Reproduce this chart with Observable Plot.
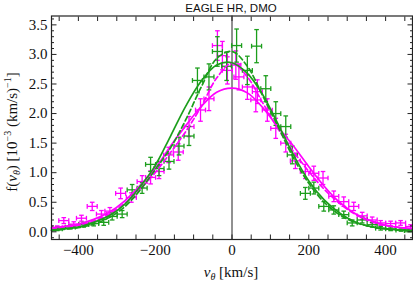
<!DOCTYPE html>
<html>
<head>
<meta charset="utf-8">
<script src="https://cdn.jsdelivr.net/npm/d3@7"></script>
<script src="https://cdn.jsdelivr.net/npm/@observablehq/plot@0.6"></script>
<style>
  html, body { margin: 0; padding: 0; background: white; }
  #chart { width: 413px; height: 282px; }
</style>
</head>
<body>
<div id="chart"></div>
<script>
// ---- data ----
const title = "EAGLE HR, DMO";

// green binned points: velocity (km/s), f, y-error
const greenV = [-455, -421, -386, -360, -334, -312, -286, -260, -234, -212, -190, -164, -138, -112, -90, -60, -38, -14, 12, 40, 64, 88, 114, 140, 157, 191, 213, 239, 265, 291, 313, 339, 365, 387, 413, 440, 462];
const greenF = [0.05, 0.08, 0.12, 0.14, 0.16, 0.26, 0.30, 0.71, 0.74, 1.14, 1.07, 1.19, 1.45, 1.62, 2.56, 2.62, 3.05, 2.80, 3.15, 2.73, 3.14, 2.42, 2.00, 1.78, 1.30, 0.65, 0.74, 0.43, 0.37, 0.29, 0.15, 0.20, 0.12, 0.06, 0.05, 0.03, 0.02];
const greenE = [0.03, 0.03, 0.04, 0.04, 0.05, 0.06, 0.06, 0.09, 0.09, 0.12, 0.12, 0.13, 0.15, 0.16, 0.21, 0.22, 0.25, 0.24, 0.28, 0.24, 0.28, 0.22, 0.20, 0.18, 0.15, 0.10, 0.10, 0.08, 0.07, 0.06, 0.05, 0.05, 0.04, 0.03, 0.03, 0.02, 0.02];

// magenta binned points
const magV = [-455, -438, -412, -392, -364, -340, -318, -290, -262, -234, -212, -190, -165, -140, -112, -82, -60, -38, -25, -12, 10, 18, 40, 62, 66, 92, 114, 140, 165, 191, 213, 237, 265, 291, 317, 339, 365, 387, 413, 439, 465];
const magF = [0.07, 0.19, 0.13, 0.23, 0.43, 0.30, 0.35, 0.65, 0.58, 0.85, 0.92, 1.02, 1.30, 1.35, 1.78, 2.06, 2.25, 3.15, 2.98, 2.73, 2.82, 2.62, 2.45, 2.23, 2.37, 2.06, 1.75, 1.50, 1.20, 1.02, 0.99, 0.91, 0.60, 0.51, 0.43, 0.27, 0.20, 0.15, 0.14, 0.15, 0.09];
const magE = [0.03, 0.05, 0.04, 0.05, 0.07, 0.06, 0.06, 0.09, 0.08, 0.10, 0.11, 0.12, 0.13, 0.14, 0.17, 0.19, 0.20, 0.25, 0.24, 0.23, 0.24, 0.22, 0.21, 0.20, 0.20, 0.19, 0.17, 0.15, 0.13, 0.12, 0.12, 0.11, 0.09, 0.08, 0.07, 0.06, 0.05, 0.04, 0.04, 0.04, 0.03];

// fitted model curves
const curveV =     [-470, -440, -400, -360, -320, -280, -240, -200, -160, -120, -80, -40, 0, 40, 80, 120, 160, 200, 240, 280, 320, 360, 400, 440, 470];
const greenSolid = [0.03, 0.05, 0.08, 0.16, 0.27, 0.46, 0.76, 1.12, 1.62, 2.13, 2.55, 2.82, 2.86, 2.68, 2.32, 1.82, 1.30, 0.86, 0.54, 0.32, 0.17, 0.09, 0.05, 0.03, 0.02];
const greenDash =  [0.02, 0.04, 0.07, 0.13, 0.24, 0.42, 0.70, 1.05, 1.42, 1.90, 2.45, 2.93, 3.05, 2.80, 2.30, 1.78, 1.25, 0.82, 0.50, 0.29, 0.16, 0.09, 0.05, 0.03, 0.02];
const magSolid =   [0.07, 0.09, 0.13, 0.21, 0.33, 0.52, 0.78, 1.07, 1.45, 1.80, 2.12, 2.36, 2.43, 2.35, 2.10, 1.77, 1.45, 1.10, 0.77, 0.50, 0.31, 0.19, 0.11, 0.07, 0.05];
const magDash =    [0.05, 0.07, 0.11, 0.18, 0.30, 0.48, 0.72, 1.00, 1.34, 1.70, 2.12, 2.60, 2.85, 2.62, 2.18, 1.74, 1.36, 1.02, 0.72, 0.48, 0.30, 0.18, 0.11, 0.07, 0.05];

// axis ticks
const xLabelTicks = [-400, -200, 0, 200, 400];
const xTicks = [-450, -400, -350, -300, -250, -200, -150, -100, -50, 0, 50, 100, 150, 200, 250, 300, 350, 400, 450];
const yLabelTicks = [0, 0.5, 1, 1.5, 2, 2.5, 3, 3.5];
const yMinorTicks = [-0.1, 0.1, 0.2, 0.3, 0.4, 0.6, 0.7, 0.8, 0.9, 1.1, 1.2, 1.3, 1.4, 1.6, 1.7, 1.8, 1.9, 2.1, 2.2, 2.3, 2.4, 2.6, 2.7, 2.8, 2.9, 3.1, 3.2, 3.3, 3.4, 3.6];

// ---- build tables ----
const GREEN = "#1c9e1c";
const MAG = "#ff00ff";
const SERIF = "Liberation Serif";
const green = greenV.map((v, i) => ({v, f: greenF[i], e: greenE[i]}));
const mag = magV.map((v, i) => ({v, f: magF[i], e: magE[i]}));
const curves = curveV.map((v, i) => ({v, gs: greenSolid[i], gd: greenDash[i], ms: magSolid[i], md: magDash[i]}));

const XERR = 13;   // half bin width, km/s
const CAPX = 6;    // cap half-width in km/s
const CAPY = 0.04; // cap half-height in f units

function errorMarks(data, color) {
  const sw = 1.3;
  return [
    Plot.link(data, {x1: d => d.v, x2: d => d.v, y1: d => d.f - d.e, y2: d => d.f + d.e, stroke: color, strokeWidth: sw}),
    Plot.link(data, {x1: d => d.v - XERR, x2: d => d.v + XERR, y1: d => d.f, y2: d => d.f, stroke: color, strokeWidth: sw}),
    Plot.link(data, {x1: d => d.v - CAPX, x2: d => d.v + CAPX, y1: d => d.f + d.e, y2: d => d.f + d.e, stroke: color, strokeWidth: sw}),
    Plot.link(data, {x1: d => d.v - CAPX, x2: d => d.v + CAPX, y1: d => d.f - d.e, y2: d => d.f - d.e, stroke: color, strokeWidth: sw}),
    Plot.link(data, {x1: d => d.v - XERR, x2: d => d.v - XERR, y1: d => d.f - CAPY, y2: d => d.f + CAPY, stroke: color, strokeWidth: sw}),
    Plot.link(data, {x1: d => d.v + XERR, x2: d => d.v + XERR, y1: d => d.f - CAPY, y2: d => d.f + CAPY, stroke: color, strokeWidth: sw})
  ];
}

const fmtX = d => d < 0 ? "\u2212" + Math.abs(d) : String(d);
const fmtY = d3.format(".1f");

const chart = Plot.plot({
  width: 413,
  height: 282,
  marginLeft: 51,
  marginRight: 1,
  marginTop: 15.5,
  marginBottom: 43,
  x: {domain: [-470, 470], axis: null},
  y: {domain: [-0.13, 3.65], axis: null},
  style: {background: "white", overflow: "visible"},
  marks: [
    Plot.ruleX([0], {stroke: "#222", strokeWidth: 1}),
    ...errorMarks(mag, MAG),
    ...errorMarks(green, GREEN),
    Plot.line(curves, {x: "v", y: "md", stroke: MAG, strokeWidth: 1.7, strokeDasharray: "5,3", curve: "catmull-rom"}),
    Plot.line(curves, {x: "v", y: "ms", stroke: MAG, strokeWidth: 1.7, curve: "catmull-rom"}),
    Plot.line(curves, {x: "v", y: "gd", stroke: GREEN, strokeWidth: 1.7, strokeDasharray: "5,3", curve: "catmull-rom"}),
    Plot.line(curves, {x: "v", y: "gs", stroke: GREEN, strokeWidth: 1.7, curve: "catmull-rom"}),
    // ticks (inward) on all four sides
    Plot.axisX(xTicks, {anchor: "bottom", tickSize: -4.5, text: null, label: null, stroke: "#222"}),
    Plot.axisX(xTicks, {anchor: "top", tickSize: -4.5, text: null, label: null, stroke: "#222"}),
    Plot.axisY(yLabelTicks, {anchor: "left", tickSize: -5.5, text: null, label: null, stroke: "#222"}),
    Plot.axisY(yMinorTicks, {anchor: "left", tickSize: -3, text: null, label: null, stroke: "#222"}),
    Plot.axisY(yLabelTicks, {anchor: "right", tickSize: -5.5, text: null, label: null, stroke: "#222"}),
    Plot.axisY(yMinorTicks, {anchor: "right", tickSize: -3, text: null, label: null, stroke: "#222"}),
    // tick labels as text marks, serif like the reference
    Plot.text(xLabelTicks, {x: d => d, frameAnchor: "bottom", dy: 15, text: fmtX, fontFamily: SERIF, fontSize: 15, fill: "#111"}),
    Plot.text(yLabelTicks, {y: d => d, frameAnchor: "left", dx: -4, textAnchor: "end", text: fmtY, fontFamily: SERIF, fontSize: 15, fill: "#111"}),
    Plot.frame({stroke: "#222", strokeWidth: 1.2})
  ]
});

document.getElementById("chart").appendChild(chart);

const svg = d3.select(chart);

// title and axis labels (with sub/superscripts)
svg.append("text")
  .attr("x", 231).attr("y", 11.5)
  .attr("text-anchor", "middle")
  .style("font-family", "'Liberation Sans', Arial, sans-serif")
  .style("font-size", "11.5px")
  .attr("fill", "#111")
  .text(title);

const xl = svg.append("text")
  .attr("x", 231).attr("y", 277)
  .attr("text-anchor", "middle")
  .style("font-family", SERIF)
  .style("font-size", "15px")
  .attr("fill", "#111");
xl.append("tspan").style("font-style", "italic").text("v");
xl.append("tspan").attr("dy", 3).style("font-size", "10px").style("font-style", "italic").text("θ");
xl.append("tspan").attr("dy", -3).text(" [km/s]");

const yl = svg.append("text")
  .attr("transform", "translate(17,132) rotate(-90)")
  .attr("text-anchor", "middle")
  .style("font-family", SERIF)
  .style("font-size", "15px")
  .attr("fill", "#111");
yl.append("tspan").text("f(");
yl.append("tspan").style("font-style", "italic").text("v");
yl.append("tspan").attr("dy", 3).style("font-size", "10px").style("font-style", "italic").text("θ");
yl.append("tspan").attr("dy", -3).text(") [10");
yl.append("tspan").attr("dy", -6).style("font-size", "10px").text("−3");
yl.append("tspan").attr("dy", 6).text(" (km/s)");
yl.append("tspan").attr("dy", -6).style("font-size", "10px").text("−1");
yl.append("tspan").attr("dy", 6).text("]");
</script>
</body>
</html>
